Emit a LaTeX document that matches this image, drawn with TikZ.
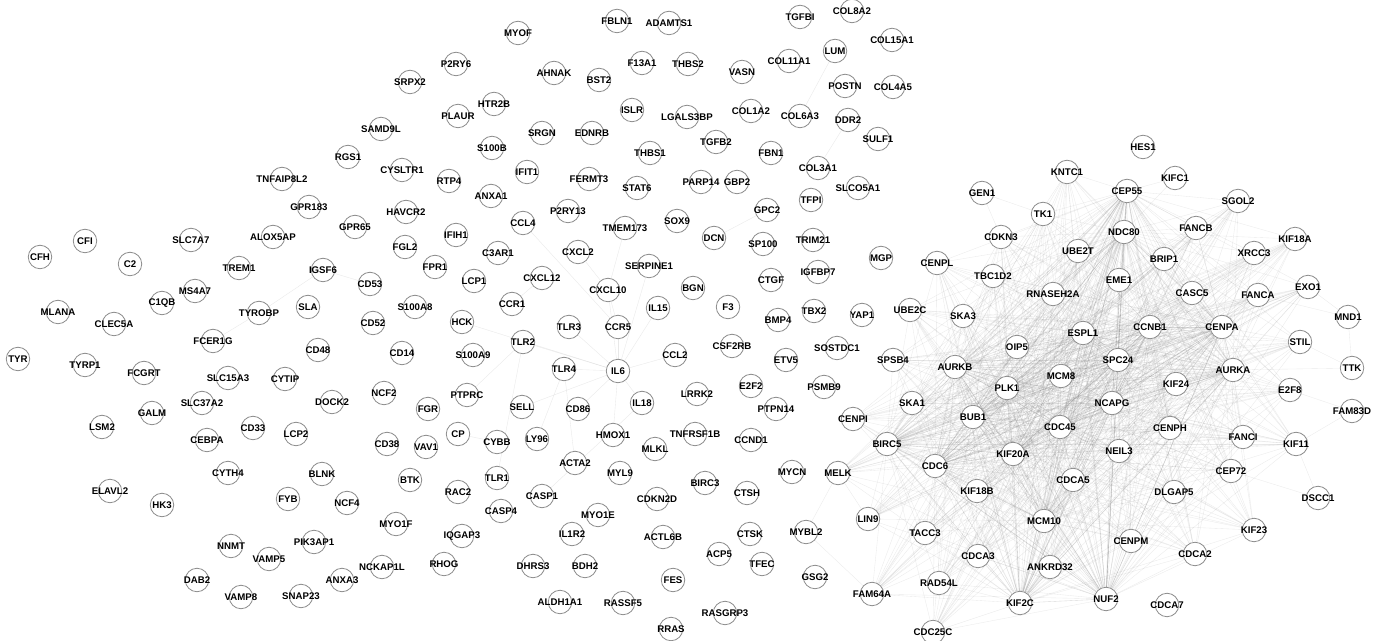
\documentclass[tikz,border=0pt]{standalone}
\usepackage{fontspec}
\setmainfont{Liberation Sans}
\pgfdeclarelayer{background}
\pgfdeclarelayer{canvas}
\pgfsetlayers{canvas,background,main}
\tikzset{
  gnode/.style={circle,draw=black!45,line width=0.45pt,fill=white,minimum size=0.47cm,inner sep=0pt},
  glabel/.style={font=\bfseries\fontsize{5.5}{6}\selectfont,inner sep=0pt,text=black},
  edge/.style={draw=black!50,line width=0.2pt,opacity=0.16},
  fedge/.style={draw=black!25,line width=0.2pt,opacity=0.35}
}
\begin{document}
\begin{tikzpicture}[x=0.02cm,y=-0.02cm]
\begin{pgfonlayer}{canvas}
\fill[white] (0,0) rectangle (1380,641);
\end{pgfonlayer}
\useasboundingbox (0,0) rectangle (1380,641);
\foreach \n/\x/\y in {
TYR/18/359, CFH/40/257, CFI/85/241, C2/130/264, MLANA/58/312, CLEC5A/114/324, C1QB/162/303, MS4A7/195/291, SLC7A7/191/240,
TYRP1/85/365, FCGRT/144/373, LSM2/102/427, GALM/152/413, ELAVL2/110/491, HK3/162/505, DAB2/197/580,
TREM1/239/268, ALOX5AP/273/237, GPR183/309/207, TNFAIP8L2/282/179, IGSF6/323/270, TYROBP/259/313, SLA/308/307,
FCER1G/213/341, CD48/318/350, SLC15A3/228/378, CYTIP/285/379, SLC37A2/202/403, DOCK2/332/402, CEBPA/207/440,
CD33/253/428, LCP2/296/434, CYTH4/228/473, BLNK/322/474, FYB/288/499, NCF4/347/503, NNMT/231/546, PIK3AP1/314/542,
VAMP5/269/559, VAMP8/241/597, SNAP23/301/596, ANXA3/342/580, NCKAP1L/382/567, RHOG/444/564, MYO1F/396/524,
IQGAP3/462/536, BTK/410/480, RAC2/458/492, CD38/387/444, VAV1/426/447, CP/458/434, CYBB/497/442, LY96/537/439,
TLR1/497/478, CASP4/501/511, CASP1/542/496, ACTA2/575/463, HMOX1/613/435, MLKL/655/449, MYL9/620/473,
CDKN2D/657/499, MYO1E/598/515, IL1R2/572/534, ACTL6B/663/537, DHRS3/533/566, BDH2/585/566, ALDH1A1/560/602,
RASSF5/623/603, FES/673/580, RRAS/671/629, RASGRP3/725/613, ACP5/719/554, TFEC/762/564, CTSK/750/534,
GSG2/815/577, MYBL2/806/532, CTSH/747/493, BIRC3/705/483, MYCN/792/472, CCND1/751/440, TNFRSF1B/695/434,
MYOF/518/33, P2RY6/456/64, AHNAK/554/73, SRPX2/410/82, HTR2B/494/104, PLAUR/458/116, SAMD9L/381/129, SRGN/542/133,
S100B/492/148, RGS1/348/157, CYSLTR1/402/170, IFIT1/527/172, RTP4/449/181, ANXA1/491/196, HAVCR2/406/212,
P2RY13/568/211, GPR65/355/227, CCL4/523/223, TMEM173/625/228, SOX9/677/221, IFIH1/456/235, FGL2/405/247,
C3AR1/498/253, CXCL2/578/252, FPR1/435/267, SERPINE1/649/266, CD53/370/284, LCP1/474/281, CXCL12/542/278,
CXCL10/608/290, S100A8/415/307, CCR1/512/304, IL15/658/308, CD52/373/323, HCK/462/322, TLR3/569/327, CCR5/618/327,
TLR2/523/342, CD14/402/353, S100A9/473/355, CCL2/675/355, TLR4/564/369, IL6/618/371, NCF2/384/393, PTPRC/467/395,
FGR/428/409, SELL/522/407, CD86/578/409, IL18/642/403,
FBLN1/617/21, ADAMTS1/669/23, TGFBI/800/17, COL8A2/852/11, COL15A1/892/40, LUM/835/51, F13A1/642/63, THBS2/688/64,
COL11A1/789/61, VASN/742/72, BST2/599/80, POSTN/845/86, COL4A5/893/87, ISLR/632/110, LGALS3BP/687/117,
COL1A2/751/111, COL6A3/800/116, DDR2/848/120, EDNRB/592/133, TGFB2/716/142, SULF1/878/139, THBS1/650/153,
FBN1/771/153, COL3A1/818/168, FERMT3/589/179, STAT6/637/188, PARP14/701/182, GBP2/737/182, SLCO5A1/858/188,
TFPI/811/200, GPC2/767/210, DCN/714/238, SP100/763/244, TRIM21/813/240, MGP/881/258, CTGF/771/280, IGFBP7/818/272,
BGN/693/288, F3/728/307, BMP4/778/320, TBX2/814/311, YAP1/862/315, CSF2RB/732/346, SOSTDC1/837/348, ETV5/786/360,
E2F2/751/386, PSMB9/824/387, LRRK2/697/394, PTPN14/776/409,
HES1/1143/147, KNTC1/1067/172, KIFC1/1175/178, GEN1/982/193, CEP55/1127/191, SGOL2/1238/201, TK1/1043/214,
CDKN3/1001/237, NDC80/1124/232, FANCB/1196/228, KIF18A/1295/239, UBE2T/1078/251, BRIP1/1164/259, XRCC3/1254/253,
CENPL/937/263, TBC1D2/993/276, EME1/1119/280, EXO1/1308/287, RNASEH2A/1053/294, CASC5/1192/293, FANCA/1258/295,
UBE2C/910/310, SKA3/963/316, MND1/1348/317, ESPL1/1083/333, CCNB1/1150/327, CENPA/1222/327, STIL/1300/342,
OIP5/1017/347, SPC24/1118/360, AURKB/955/367, TTK/1352/368, AURKA/1233/370, MCM8/1061/376, KIF24/1176/384,
PLK1/1007/388, E2F8/1290/390, SPSB4/893/360, SKA1/912/403, NCAPG/1112/403, FAM83D/1352/411, CENPI/853/419,
BUB1/973/417, CDC45/1060/427, CENPH/1170/428, FANCI/1243/437, KIF11/1296/444, BIRC5/887/444, NEIL3/1119/451,
KIF20A/1013/454, CDC6/935/466, MELK/838/473, CEP72/1231/471, CDCA5/1073/480, KIF18B/977/491, DLGAP5/1174/492,
DSCC1/1318/498, LIN9/868/519, MCM10/1044/521, TACC3/925/533, KIF23/1254/530, CENPM/1131/541, CDCA3/978/556,
CDCA2/1195/554, ANKRD32/1050/567, RAD54L/939/583, FAM64A/872/594, KIF2C/1020/603, NUF2/1106/599, CDCA7/1167/605,
CDC25C/933/632}
{
  \node[gnode] (\n) at (\x,\y) {};
  \node[glabel] at (\x,\y) {\n};
}
\begin{pgfonlayer}{background}
\foreach \h in {PLK1,AURKB,BUB1,CCNB1,NCAPG,CDC45,AURKA,NDC80,KIF20A,CDC6,BIRC5,CENPA,KIF2C,NUF2,CEP55,MCM10,ESPL1,SPC24}{
  \foreach \m in {UBE2C,SPSB4,SKA1,CENPI,BIRC5,MELK,LIN9,FAM64A,CDC25C,RAD54L,TACC3,CDCA3,KIF2C,ANKRD32,NUF2,CDCA2,KIF23,CEP72,DLGAP5,MCM10,CENPM,KIF18B,CDCA5,CDC6,KIF20A,NEIL3,BUB1,CDC45,CENPH,FANCI,KIF11,E2F8,STIL,AURKA,KIF24,NCAPG,PLK1,MCM8,SPC24,AURKB,OIP5,ESPL1,CCNB1,CENPA,SKA3,RNASEH2A,CASC5,FANCA,EXO1,CENPL,TBC1D2,EME1,BRIP1,XRCC3,KIF18A,UBE2T,NDC80,FANCB,CDKN3,TK1,SGOL2,CEP55,KNTC1}{
    \ifx\h\m\else\draw[edge] (\h) -- (\m);\fi
  }
}
\foreach \a/\b in {GEN1/TK1,GEN1/CDKN3,KIFC1/CEP55,KIFC1/NDC80,MND1/EXO1,MND1/FANCA,TTK/AURKA,TTK/STIL,TTK/MND1,FAM83D/KIF11,FAM83D/E2F8,DSCC1/KIF11,DSCC1/CEP72,MYBL2/FAM64A,MYBL2/MELK,MELK/LIN9}
  \draw[edge] (\a) -- (\b);
\foreach \a/\b in {HCK/IL6,TLR2/IL6,TLR4/IL6,CCL2/IL6,IL18/IL6,CCR5/IL6,CXCL10/IL6,SELL/IL6,CD86/IL6,IL15/IL6,TLR3/IL6,CXCL10/CCR5,CXCL12/CCR1,CXCL2/CXCL10,SERPINE1/IL6,TYROBP/IGSF6,TYROBP/FCER1G,IGSF6/CD53,PTPRC/TLR2,TLR2/TLR1,LY96/TLR4,ACTA2/TLR4,CASP1/IL18,LUM/COL6A3,DDR2/COL3A1,GPC2/DCN,CCL4/CCR5,HMOX1/IL6,CP/CYBB,TMEM173/CXCL10}
  \draw[fedge] (\a) -- (\b);
\end{pgfonlayer}
\end{tikzpicture}
\end{document}
